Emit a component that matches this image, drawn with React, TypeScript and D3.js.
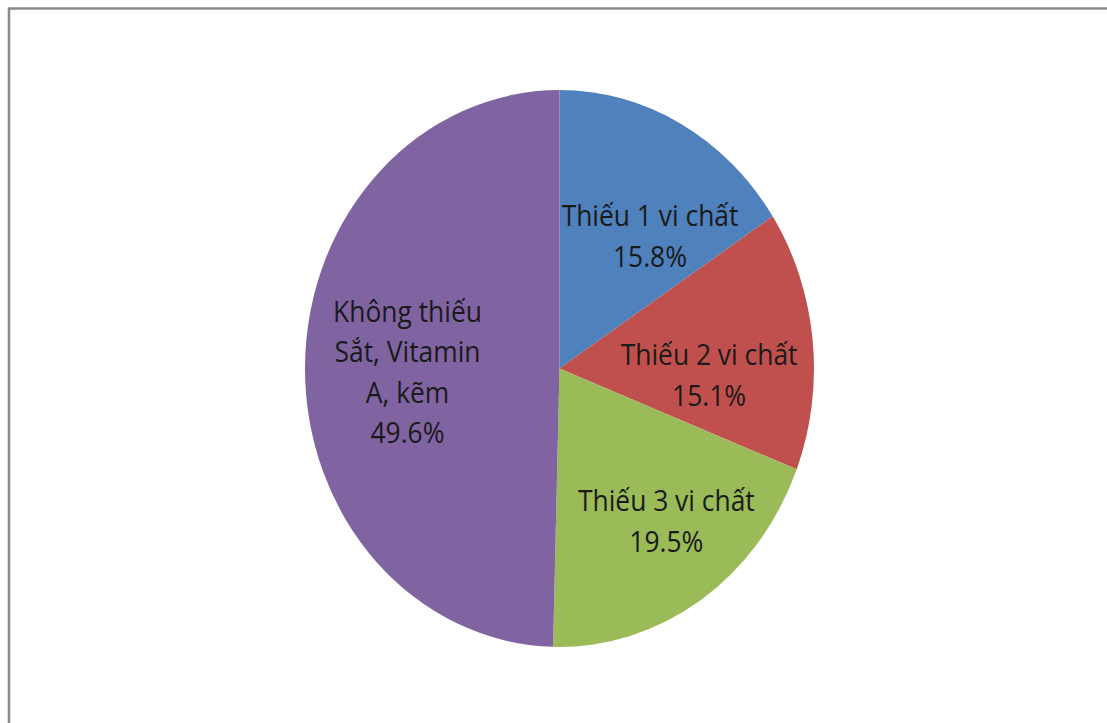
import React, { useEffect, useRef } from "react";
import * as d3 from "d3";

// ---- data ----
const categories: string[][] = [
  ["Thiếu 1 vi chất"],
  ["Thiếu 2 vi chất"],
  ["Thiếu 3 vi chất"],
  ["Không thiếu", "Sắt, Vitamin", "A, kẽm"],
];
const values: number[] = [15.8, 15.1, 19.5, 49.6];
const colors: string[] = ["#4F81BD", "#C0504D", "#9BBB59", "#8064A2"];

// ---- layout ----
const W = 1107;
const H = 723;
const CX = 559.5;
const CY = 368.5;
const R = 254.5;
const STRETCH_Y = 1.094;
const LABEL_R = 0.6;
const labelNudge: [number, number][] = [
  [17.8, 12.2],
  [-2.3, 20.7],
  [22.2, 11.5],
  [0.7, 4.2],
];
const FONT_SIZE = 26.4;
const LINE_H = 37;

export default function App() {
  const ref = useRef<SVGSVGElement | null>(null);

  useEffect(() => {
    const svg = d3.select(ref.current);
    svg.selectAll("*").remove();

    svg.append("rect").attr("width", W).attr("height", H).attr("fill", "#fff");

    // frame (top and left visible edges)
    svg
      .append("path")
      .attr("d", `M9,${H + 5} L9,8.5 L${W + 5},8.5`)
      .attr("fill", "none")
      .attr("stroke", "#8a8a8a")
      .attr("stroke-width", 2.6);

    const pie = d3
      .pie<number>()
      .sort(null)
      .value((d) => d)
      .startAngle(0)
      .endAngle(2 * Math.PI);
    const arcs = pie(values);
    const arc = d3.arc<d3.PieArcDatum<number>>().innerRadius(0).outerRadius(R);
    const labelArc = d3
      .arc<d3.PieArcDatum<number>>()
      .innerRadius(R * LABEL_R)
      .outerRadius(R * LABEL_R);

    const g = svg
      .append("g")
      .attr("transform", `translate(${CX},${CY}) scale(1,${STRETCH_Y})`);

    g.selectAll("path.slice")
      .data(arcs)
      .join("path")
      .attr("class", "slice")
      .attr("d", arc)
      .attr("fill", (_, i) => colors[i]);

    const labels = g
      .selectAll("text.lbl")
      .data(arcs)
      .join("text")
      .attr("class", "lbl")
      .attr("font-family", "'Open Sans', 'Noto Sans', sans-serif")
      .attr("font-size", FONT_SIZE)
      .attr("fill", "#1a1a1a")
      .attr("text-anchor", "middle");

    labels.each(function (d, i) {
      const [x0, y0] = labelArc.centroid(d);
      const x = x0 + labelNudge[i][0];
      const y = y0 + labelNudge[i][1];
      const lines = [...categories[i], `${values[i].toFixed(1)}%`];
      const n = lines.length;
      const t = d3.select(this);
      lines.forEach((line, k) => {
        t.append("tspan")
          .attr("x", x)
          .attr("y", y + (k - (n - 1) / 2) * LINE_H)
          .attr("dominant-baseline", "central")
          .text(line);
      });
    });
  }, []);

  return (
    <svg
      ref={ref}
      width={W}
      height={H}
      style={{ position: "fixed", left: 0, top: 0, display: "block" }}
    />
  );
}
